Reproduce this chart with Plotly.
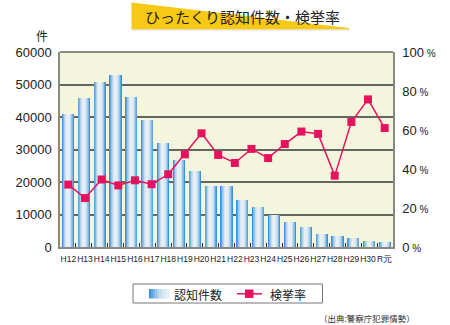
import plotly.graph_objects as go

# ---- data ----
bar_counts = [41000, 46000, 50700, 52800, 46300, 39200, 31900, 26700, 23500, 18900,
              18900, 14400, 12300, 10000, 7800, 6100, 3900, 3300, 2700, 1750, 1450]
year_labels = ["H12", "H13", "H14", "H15", "H16", "H17", "H18", "H19", "H20", "H21",
               "H22", "H23", "H24", "H25", "H26", "H27", "H28", "H29", "H30", "R元"]
arrest_rate = [32.0, 25.1, 34.6, 31.6, 34.2, 32.2, 37.3, 47.5, 58.3, 47.2,
               43.1, 50.3, 45.6, 52.8, 59.2, 58.0, 36.6, 64.1, 75.7, 61.0]
left_ticks = [0, 10000, 20000, 30000, 40000, 50000, 60000]
right_ticks = [0, 20, 40, 60, 80, 100]

W, H = 450, 325
L, R, T, B = 60, 393, 52, 247
JP = "Noto Sans CJK JP"
NUM = "Liberation Sans, Arial, sans-serif"
RED = "#e5135f"

def px(x):
    return (x - L) / (R - L)

def py(y):
    return (B - y) / (B - T)

fig = go.Figure()

# gradient bars via overlaid narrower layers
layers = [
    (0.76, "#3a92d8"), (0.68, "#5ea6de"), (0.60, "#7fb7e3"), (0.52, "#9cc6e8"),
    (0.44, "#b5d3eb"), (0.36, "#c9dfef"), (0.28, "#d7e6f1"), (0.20, "#e0ebf3"),
    (0.12, "#e7eff5"),
]
bar_x = list(range(len(bar_counts)))
for w, c in layers:
    fig.add_trace(go.Bar(x=bar_x, y=bar_counts, width=w, marker=dict(color=c, line=dict(width=0)),
                         xaxis="x", yaxis="y", showlegend=False, hoverinfo="skip"))

fig.add_trace(go.Scatter(x=year_labels, y=arrest_rate, mode="lines+markers",
                         line=dict(color=RED, width=1.5),
                         marker=dict(symbol="square", size=8, color=RED),
                         xaxis="x2", yaxis="y2", showlegend=False))

shapes = []
# yellow title banner
shapes.append(dict(type="path", xref="paper", yref="paper",
                   path=f"M {px(131.5)},{py(2.5)} L {px(349)},{py(28)} L {px(349)},{py(29.5)} L {px(131.5)},{py(29.5)} Z",
                   fillcolor="#f6c915", line=dict(width=0), layer="below"))
shapes.append(dict(type="line", xref="paper", yref="paper",
                   x0=px(131.5), x1=px(349), y0=py(30), y1=py(30),
                   line=dict(color="#dddddd", width=1)))
# top border of plot area
shapes.append(dict(type="line", xref="paper", yref="paper",
                   x0=0, x1=1, y0=1, y1=1, line=dict(color="#666660", width=1.5)))
# legend box
shapes.append(dict(type="rect", xref="paper", yref="paper",
                   x0=px(133), x1=px(322.5), y0=py(284), y1=py(303),
                   line=dict(color="#777777", width=1), fillcolor="white"))
# legend gradient swatch
sw_cols = ["#3a92d8", "#5aa4dd", "#79b4e2", "#94c2e6", "#acd0ea", "#c0dbee", "#cfe3f0", "#d9e8f2", "#e1ecf4", "#e6eff5"]
x0s = 149.0
step = 20.5 / len(sw_cols)
for i, c in enumerate(sw_cols):
    shapes.append(dict(type="rect", xref="paper", yref="paper",
                       x0=px(x0s + i * step), x1=px(x0s + (i + 1) * step + 0.3),
                       y0=py(289), y1=py(298.5), line=dict(width=0), fillcolor=c))
# legend line swatch
shapes.append(dict(type="line", xref="paper", yref="paper",
                   x0=px(237), x1=px(262), y0=py(293.8), y1=py(293.8),
                   line=dict(color=RED, width=1.5)))
shapes.append(dict(type="rect", xref="paper", yref="paper",
                   x0=px(245), x1=px(253.5), y0=py(289.5), y1=py(298),
                   line=dict(width=0), fillcolor=RED))

annotations = [
    dict(text="ひったくり認知件数・検挙率", x=px(242), y=py(17), xref="paper", yref="paper",
         showarrow=False, font=dict(family=JP, size=15, color="#222222"), xanchor="center", yanchor="middle"),
    dict(text="件", x=px(42), y=py(35), xref="paper", yref="paper",
         showarrow=False, font=dict(family=JP, size=12, color="#222222"), xanchor="center", yanchor="middle"),
    dict(text="認知件数", x=px(172), y=py(294), xref="paper", yref="paper",
         showarrow=False, font=dict(family=JP, size=12, color="#222222"), xanchor="left", yanchor="middle"),
    dict(text="検挙率", x=px(268), y=py(294), xref="paper", yref="paper",
         showarrow=False, font=dict(family=JP, size=12, color="#222222"), xanchor="left", yanchor="middle"),
    dict(text="（出典:警察庁犯罪情勢）", x=px(417), y=py(318), xref="paper", yref="paper",
         showarrow=False, font=dict(family=JP, size=8.5, color="#333333"), xanchor="right", yanchor="middle"),
]

fig.update_layout(
    width=W, height=H,
    margin=dict(l=L, r=W - R, t=T, b=H - B, pad=0),
    paper_bgcolor="white", plot_bgcolor="#f3f5dd",
    barmode="overlay", bargap=0,
    shapes=shapes, annotations=annotations,
    xaxis=dict(range=[-0.5, len(bar_counts) - 0.5], showticklabels=False, showgrid=False,
               tickmode="array", tickvals=[i + 0.5 for i in range(len(bar_counts) - 1)],
               ticks="inside", ticklen=4, tickcolor="#333333", tickwidth=1,
               showline=True, linecolor="#8a8a80", linewidth=1.5, zeroline=False, fixedrange=True),
    xaxis2=dict(overlaying="x", side="bottom", type="category", range=[-0.5, len(year_labels) - 0.5],
                showgrid=False, ticks="", showline=False, zeroline=False, tickangle=0,
                tickfont=dict(family=NUM, size=8.5, color="#222222"), ticklabelstandoff=5),
    yaxis=dict(range=[0, 60000], tickmode="array", tickvals=left_ticks, ticktext=[str(v) for v in left_ticks],
               showgrid=True, gridcolor="#666660", gridwidth=1.5, zeroline=False,
               showline=True, linecolor="#8a8a80", linewidth=1.5, ticks="",
               tickfont=dict(family=NUM, size=13, color="#222222"), ticklabelstandoff=4),
    yaxis2=dict(overlaying="y", side="right", range=[0, 100], tickmode="array", tickvals=right_ticks,
                ticktext=[f"{v}<span style='font-size:10px'> %</span>" for v in right_ticks],
                showgrid=False, zeroline=False, showline=True, linecolor="#8a8a80", linewidth=1.5, ticks="",
                tickfont=dict(family=NUM, size=13, color="#222222"), ticklabelstandoff=5),
)

fig.write_html("out.html")
